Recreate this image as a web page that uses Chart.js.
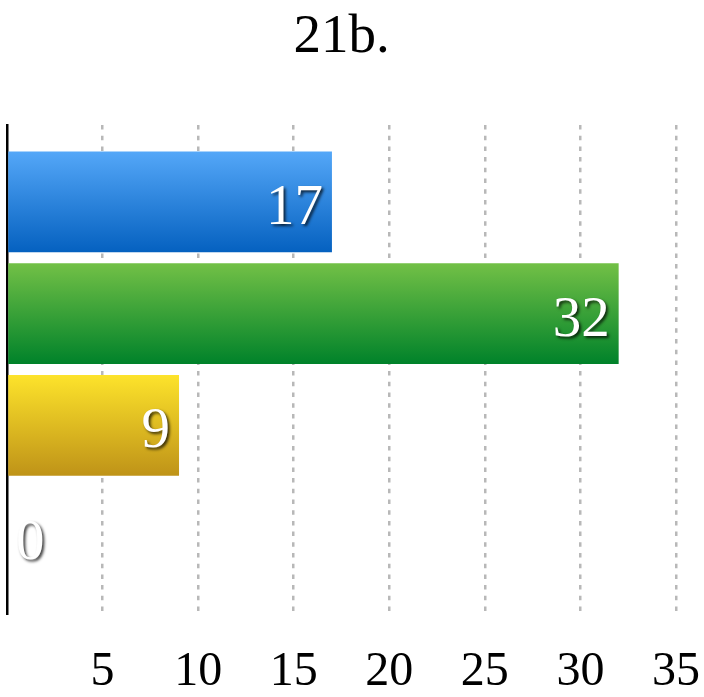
<!DOCTYPE html>
<html>
<head>
<meta charset="utf-8">
<script src="https://cdn.jsdelivr.net/npm/chart.js@4"></script>
<style>
  html, body { margin: 0; padding: 0; background: #ffffff; }
  #wrap { width: 704px; height: 697px; }
</style>
</head>
<body>
<div id="wrap"><canvas id="c" width="704" height="697"></canvas></div>
<script>
const chartTitle = "21b.";
const categories = ["1", "2", "3", "4"];
const values = [17, 32, 9, 0];
const topColors = ["#54a7f8", "#72c046", "#fde32b", "#f05a4a"];
const bottomColors = ["#0561c0", "#00822a", "#bf9318", "#b01e12"];
const xTicks = [0, 5, 10, 15, 20, 25, 30, 35];

const SERIF = "'Liberation Serif', 'DejaVu Serif', serif";

const dataPoints = values.map((v, i) => ({ x: v, y: i }));

function barGradient(context) {
  const chart = context.chart;
  const i = context.dataIndex;
  const yScale = chart.scales.y;
  if (!chart.chartArea || !yScale) return topColors[i];
  const c = yScale.getPixelForValue(i);
  const spacing = Math.abs(yScale.getPixelForValue(1) - yScale.getPixelForValue(0));
  const half = spacing * 0.9 / 2;
  if (!isFinite(c) || !isFinite(half) || half <= 0) return topColors[i];
  const g = chart.ctx.createLinearGradient(0, c - half, 0, c + half);
  g.addColorStop(0, topColors[i]);
  g.addColorStop(1, bottomColors[i]);
  return g;
}

const valueLabels = {
  id: 'valueLabels',
  afterDatasetsDraw(chart) {
    const ctx = chart.ctx;
    const meta = chart.getDatasetMeta(0);
    ctx.save();
    ctx.font = "57px " + SERIF;
    ctx.fillStyle = '#ffffff';
    ctx.textAlign = 'left';
    ctx.textBaseline = 'middle';
    ctx.shadowColor = 'rgba(0,0,0,0.75)';
    ctx.shadowOffsetX = 2;
    ctx.shadowOffsetY = 2;
    ctx.shadowBlur = 3;
    meta.data.forEach((el, i) => {
      const txt = String(values[i]);
      const w = ctx.measureText(txt).width;
      const xl = Math.max(el.x - 9 - w, el.base + 9);
      ctx.fillText(txt, xl, el.y + 7);
    });
    ctx.restore();
  }
};

new Chart(document.getElementById('c'), {
  type: 'bar',
  data: {
    labels: categories,
    datasets: [{
      data: dataPoints,
      backgroundColor: barGradient,
      borderWidth: 0,
      categoryPercentage: 0.9,
      barPercentage: 1.0
    }]
  },
  options: {
    indexAxis: 'y',
    responsive: false,
    animation: false,
    devicePixelRatio: 1,
    layout: { padding: { left: 7, right: 28, top: 0, bottom: 2 } },
    plugins: {
      legend: { display: false },
      tooltip: { enabled: false },
      title: {
        display: true,
        text: chartTitle,
        color: '#000000',
        font: { family: SERIF, size: 55, weight: 'normal', lineHeight: 1.0 },
        padding: { top: 10, bottom: 60 }
      }
    },
    scales: {
      x: {
        type: 'linear',
        min: xTicks[0],
        max: xTicks[xTicks.length - 1],
        afterBuildTicks(scale) { scale.ticks = xTicks.map(v => ({ value: v })); },
        afterFit(scale) {
          scale.paddingLeft = 0;
          scale.paddingRight = 0;
          scale.height = 81;
        },
        ticks: {
          color: '#000000',
          padding: 34,
          maxRotation: 0,
          font: { family: SERIF, size: 48, lineHeight: 1.0 },
          callback: (v) => (v === 0 ? '' : String(v))
        },
        grid: {
          drawTicks: false,
          lineWidth: 2.5,
          color: (c) => (c.tick && c.tick.value === 0 ? 'rgba(0,0,0,0)' : '#b8b8b8')
        },
        border: { display: false, dash: [4.5, 6.2] }
      },
      y: {
        type: 'linear',
        reverse: true,
        offset: false,
        min: -0.6875,
        max: 3.6875,
        z: 1,
        afterBuildTicks(scale) { scale.ticks = categories.map((c, i) => ({ value: i })); },
        ticks: { display: false },
        grid: { display: false, drawTicks: false, offset: false },
        border: { display: true, color: '#000000', width: 2.5 }
      }
    }
  },
  plugins: [valueLabels]
});
</script>
</body>
</html>
